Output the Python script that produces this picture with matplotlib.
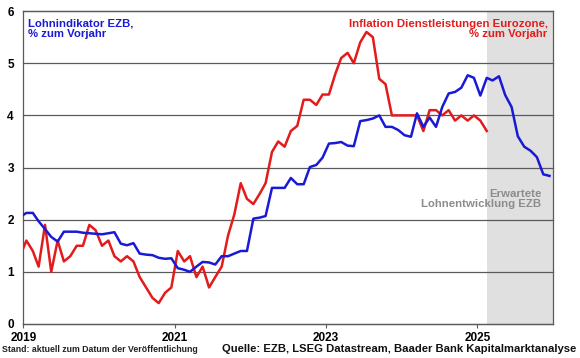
import pandas as pd
import matplotlib.pyplot as plt
import matplotlib.dates as mdates

plt.rcParams['font.family'] = ['Liberation Sans', 'DejaVu Sans']

# monthly values, Dec 2018 onwards (plotted at mid-month)
inflation_services = [
    1.3,
    1.6, 1.4, 1.1, 1.9, 1.0, 1.6, 1.2, 1.3, 1.5, 1.5, 1.9, 1.8,
    1.5, 1.6, 1.3, 1.2, 1.3, 1.2, 0.9, 0.7, 0.5, 0.4, 0.6, 0.7,
    1.4, 1.2, 1.3, 0.9, 1.1, 0.7, 0.9, 1.1, 1.7, 2.1, 2.7, 2.4,
    2.3, 2.5, 2.7, 3.3, 3.5, 3.4, 3.7, 3.8, 4.3, 4.3, 4.2, 4.4,
    4.4, 4.8, 5.1, 5.2, 5.0, 5.4, 5.6, 5.5, 4.7, 4.6, 4.0, 4.0,
    4.0, 4.0, 4.0, 3.7, 4.1, 4.1, 4.0, 4.1, 3.9, 4.0, 3.9, 4.0,
    3.9, 3.7,
]
wage_tracker = [
    2.05,
    2.13, 2.13, 1.97, 1.82, 1.67, 1.58, 1.77, 1.77, 1.77, 1.75, 1.74, 1.73,
    1.72, 1.74, 1.76, 1.54, 1.51, 1.55, 1.35, 1.33, 1.32, 1.27, 1.25, 1.26,
    1.07, 1.04, 1.00, 1.10, 1.19, 1.18, 1.14, 1.30, 1.30, 1.35, 1.40, 1.40,
    2.02, 2.04, 2.07, 2.61, 2.61, 2.61, 2.80, 2.68, 2.68, 3.01, 3.05, 3.19,
    3.46, 3.47, 3.49, 3.42, 3.41, 3.89, 3.91, 3.94, 4.00, 3.78, 3.78, 3.72,
    3.62, 3.59, 4.04, 3.78, 3.96, 3.78, 4.16, 4.42, 4.45, 4.53, 4.77, 4.72,
    4.38, 4.72, 4.67, 4.75, 4.39, 4.16, 3.60, 3.40, 3.32, 3.20, 2.87, 2.84,
]
months_infl = pd.date_range('2018-12-01', periods=len(inflation_services), freq='MS') + pd.Timedelta(days=14)
months_wage = pd.date_range('2018-12-01', periods=len(wage_tracker), freq='MS') + pd.Timedelta(days=14)

forecast_start = pd.Timestamp('2025-02-15')
forecast_end = pd.Timestamp('2026-01-01')
year_ticks = ['2019', '2021', '2023', '2025']

blue = '#1a1ad6'
red = '#e31b1b'
grid_col = '#5a5a5a'

fig = plt.figure(figsize=(5.8, 3.58), dpi=100)
ax = fig.add_axes([0.0405, 0.095, 0.913, 0.874])

ax.axvspan(forecast_start, forecast_end, color='#e0e0e0', lw=0, zorder=0)
ax.plot(months_infl, inflation_services, color=red, lw=1.8, zorder=3)
ax.plot(months_wage, wage_tracker, color=blue, lw=1.8, zorder=4)

ax.set_xlim(pd.Timestamp('2019-01-01'), forecast_end)
ax.set_ylim(0, 6)
ax.set_yticks(range(0, 7))
ax.yaxis.grid(True, color=grid_col, lw=0.9, zorder=1, clip_on=False)
ax.set_axisbelow(True)

ax.set_xticks([pd.Timestamp(y + '-01-01') for y in year_ticks])
ax.xaxis.set_major_formatter(mdates.DateFormatter('%Y'))
ax.tick_params(axis='x', direction='out', length=3, color=grid_col, pad=2.5, labelsize=8.5)
ax.tick_params(axis='y', length=0, pad=7, labelsize=8.5)
for lab in ax.get_xticklabels() + ax.get_yticklabels():
    lab.set_fontweight('bold')

for s in ['left', 'bottom', 'right']:
    ax.spines[s].set_color(grid_col)
    ax.spines[s].set_linewidth(0.9)
ax.spines['top'].set_color(grid_col)
ax.spines['top'].set_linewidth(0.9)

ax.text(0.009, 0.975, 'Lohnindikator EZB,\n% zum Vorjahr', transform=ax.transAxes,
        color=blue, fontsize=8.2, fontweight='bold', va='top', ha='left', linespacing=1.0)
ax.text(0.99, 0.975, 'Inflation Dienstleistungen Eurozone,\n% zum Vorjahr', transform=ax.transAxes,
        color=red, fontsize=8.2, fontweight='bold', va='top', ha='right', linespacing=1.0)
ax.text(0.978, 0.432, 'Erwartete\nLohnentwicklung EZB', transform=ax.transAxes,
        color='#8c8c8c', fontsize=8.2, fontweight='bold', va='top', ha='right', linespacing=1.05)

fig.text(0.003, 0.012, 'Stand: aktuell zum Datum der Veröffentlichung', fontsize=6.3,
         fontweight='bold', color='#222222', ha='left', va='bottom')
fig.text(0.994, 0.012, 'Quelle: EZB, LSEG Datastream, Baader Bank Kapitalmarktanalyse', fontsize=8.1,
         fontweight='bold', color='#111111', ha='right', va='bottom')

fig.savefig('out.png', dpi=100)
